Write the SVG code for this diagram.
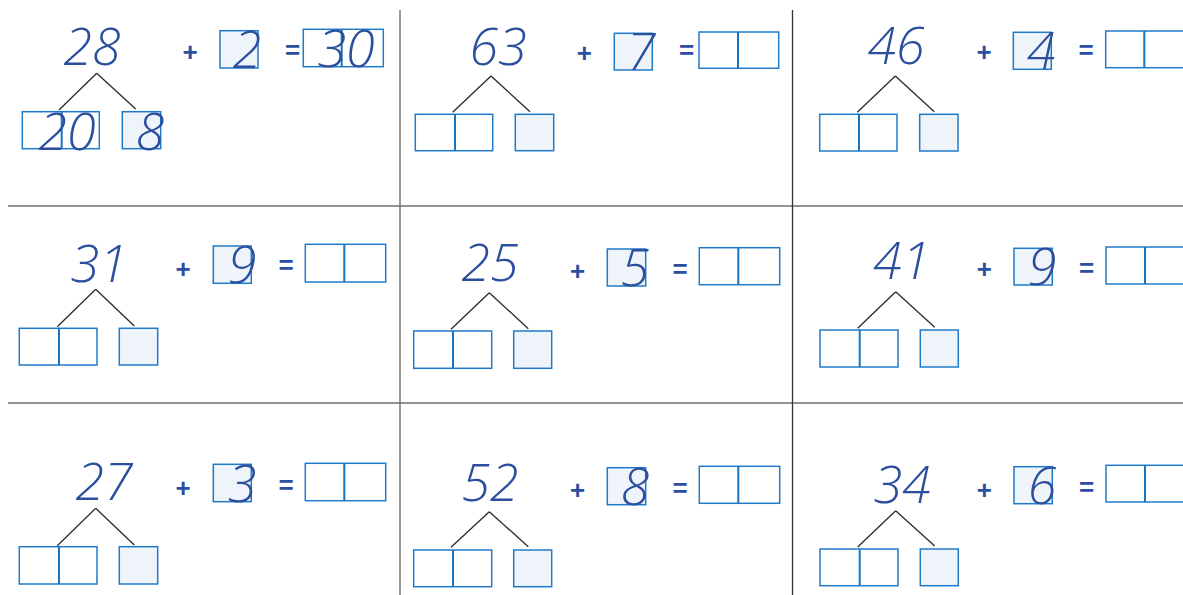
<svg xmlns="http://www.w3.org/2000/svg" width="1183" height="595" viewBox="0 0 1183 595">
<style>
.bg{fill:#ffffff}
.grid{stroke:#6e6e6e;stroke-width:1.4;fill:none}
.gridd{stroke:#333333;stroke-width:1.3;fill:none}
.box{fill:#ffffff;stroke:#1f7bc9;stroke-width:1.5}
.fbox{fill:#eff4fa;stroke:#1f7bc9;stroke-width:1.5}
.div{stroke:#1a73c0;stroke-width:2}
.num{font-family:"Open Sans","Liberation Sans",sans-serif;font-style:italic;font-weight:300;font-size:52px;fill:#2b4f9e;text-anchor:middle}
.op{font-family:"Liberation Sans",Arial,sans-serif;font-weight:bold;font-size:26px;fill:#2b4f9e;text-anchor:middle}
.conn line{stroke:#2a2a2a;stroke-width:1.3}
</style>
<rect class="bg" x="0" y="0" width="1183" height="595"/>
<g id="grid">
<line class="grid" x1="8" y1="206" x2="1183" y2="206"/>
<line class="grid" x1="8" y1="403" x2="1183" y2="403"/>
<line class="grid" x1="400" y1="10" x2="400" y2="595"/>
<line class="gridd" x1="792.5" y1="10" x2="792.5" y2="595"/>
</g>
<g id="connectors" class="conn">
<line x1="96.7" y1="73.3" x2="59" y2="110"/><line x1="96.7" y1="73.3" x2="135.7" y2="109"/>
<line x1="491" y1="76" x2="452.7" y2="112.3"/><line x1="491" y1="76" x2="530" y2="111.7"/>
<line x1="895.3" y1="76" x2="857.3" y2="112.3"/><line x1="895.3" y1="76" x2="934.3" y2="111.7"/>
<line x1="95.7" y1="289.3" x2="57.3" y2="326.7"/><line x1="95.7" y1="289.3" x2="134.3" y2="326"/>
<line x1="489.3" y1="292.7" x2="451" y2="329.3"/><line x1="489.3" y1="292.7" x2="528.3" y2="328.7"/>
<line x1="895.7" y1="291.7" x2="857.7" y2="328.3"/><line x1="895.7" y1="291.7" x2="934.7" y2="327.3"/>
<line x1="95.7" y1="508.3" x2="57.3" y2="545.7"/><line x1="95.7" y1="508.3" x2="134.3" y2="545"/>
<line x1="489.3" y1="511.7" x2="451" y2="547.3"/><line x1="489.3" y1="511.7" x2="528.3" y2="546.7"/>
<line x1="895.7" y1="510.7" x2="857.7" y2="547"/><line x1="895.7" y1="510.7" x2="934.7" y2="546"/>
</g>
<g id="cell1">
<text class="num" x="92" y="65">28</text>
<rect class="box" x="22.3" y="111.7" width="77" height="37"/><line class="div" x1="61.7" y1="111.7" x2="61.7" y2="148.7"/>
<rect class="fbox" x="122.3" y="111.7" width="38.4" height="37"/>
<text class="op" x="190" y="61">+</text>
<rect class="fbox" x="220" y="30.7" width="38" height="37.3"/>
<text class="op" x="292.7" y="59">=</text>
<rect class="box" x="303.3" y="29.3" width="80" height="37.4"/><line class="div" x1="341.7" y1="29.3" x2="341.7" y2="66.7"/>
<text class="num" x="247" y="68">2</text>
<text class="num" x="346" y="67">30</text>
<text class="num" x="67" y="150">20</text>
<text class="num" x="150" y="150">8</text>
</g>
<g id="cell2">
<text class="num" x="498" y="65">63</text>
<rect class="box" x="415.3" y="114.3" width="77.4" height="36.4"/><line class="div" x1="455" y1="114.3" x2="455" y2="150.7"/>
<rect class="fbox" x="515.3" y="114.3" width="38.4" height="36.4"/>
<text class="op" x="584.3" y="62">+</text>
<rect class="fbox" x="614.3" y="33.3" width="38" height="36.7"/>
<text class="num" x="641" y="70">7</text>
<text class="op" x="686.7" y="59">=</text>
<rect class="box" x="699" y="32" width="79.7" height="36.3"/><line class="div" x1="738" y1="32" x2="738" y2="68.3"/>
</g>
<g id="cell3">
<text class="num" x="896" y="64">46</text>
<rect class="box" x="819.7" y="114.3" width="77.3" height="36.7"/><line class="div" x1="859" y1="114.3" x2="859" y2="151"/>
<rect class="fbox" x="919.7" y="114.3" width="38.3" height="36.7"/>
<text class="op" x="984" y="61">+</text>
<rect class="fbox" x="1013.3" y="32.3" width="38" height="37"/>
<text class="num" x="1041" y="69">4</text>
<text class="op" x="1086" y="59">=</text>
<rect class="box" x="1105.7" y="31" width="79" height="36.7"/><line class="div" x1="1144.3" y1="31" x2="1144.3" y2="67.7"/>
</g>
<g id="cell4">
<text class="num" x="99" y="281.7">31</text>
<rect class="box" x="19.3" y="328.3" width="77.7" height="36.7"/><line class="div" x1="59" y1="328.3" x2="59" y2="365"/>
<rect class="fbox" x="119.3" y="328.3" width="38.4" height="36.7"/>
<text class="op" x="183" y="277.5">+</text>
<rect class="fbox" x="213.3" y="246" width="38" height="37.3"/>
<text class="num" x="242" y="283">9</text>
<text class="op" x="286" y="274">=</text>
<rect class="box" x="305.3" y="244.3" width="80.4" height="37.7"/><line class="div" x1="344.3" y1="244.3" x2="344.3" y2="282"/>
</g>
<g id="cell5">
<text class="num" x="490" y="280.7">25</text>
<rect class="box" x="413.7" y="331" width="78" height="37.3"/><line class="div" x1="453" y1="331" x2="453" y2="368.3"/>
<rect class="fbox" x="513.7" y="331" width="38" height="37.3"/>
<text class="op" x="577.7" y="280">+</text>
<rect class="fbox" x="607.3" y="249" width="38.4" height="37"/>
<text class="num" x="635" y="286">5</text>
<text class="op" x="680" y="277.5">=</text>
<rect class="box" x="699.3" y="247.7" width="80.4" height="37"/><line class="div" x1="738.3" y1="247.7" x2="738.3" y2="284.7"/>
</g>
<g id="cell6">
<text class="num" x="901.7" y="279.3">41</text>
<rect class="box" x="820" y="330" width="78" height="37"/><line class="div" x1="859.7" y1="330" x2="859.7" y2="367"/>
<rect class="fbox" x="920.3" y="330" width="38" height="37"/>
<text class="op" x="984.3" y="278">+</text>
<rect class="fbox" x="1014" y="248.3" width="38.3" height="36.7"/>
<text class="num" x="1042" y="285">9</text>
<text class="op" x="1086.7" y="277">=</text>
<rect class="box" x="1106" y="247" width="79" height="37"/><line class="div" x1="1145" y1="247" x2="1145" y2="284"/>
</g>
<g id="cell7">
<text class="num" x="104" y="500">27</text>
<rect class="box" x="19.3" y="546.7" width="77.7" height="37.3"/><line class="div" x1="59" y1="546.7" x2="59" y2="584"/>
<rect class="fbox" x="119.3" y="546.7" width="38.4" height="37.3"/>
<text class="op" x="183" y="496.5">+</text>
<rect class="fbox" x="213.3" y="464.3" width="38" height="37.4"/>
<text class="num" x="242" y="502">3</text>
<text class="op" x="286" y="494">=</text>
<rect class="box" x="305.3" y="463.3" width="80.4" height="37.4"/><line class="div" x1="344.3" y1="463.3" x2="344.3" y2="500.7"/>
</g>
<g id="cell8">
<text class="num" x="490" y="501">52</text>
<rect class="box" x="413.7" y="550" width="78" height="36.7"/><line class="div" x1="453" y1="550" x2="453" y2="586.7"/>
<rect class="fbox" x="513.7" y="550" width="38" height="36.7"/>
<text class="op" x="577.7" y="498.5">+</text>
<rect class="fbox" x="607.3" y="467.7" width="38.4" height="37"/>
<text class="num" x="635" y="504.5">8</text>
<text class="op" x="680" y="496.5">=</text>
<rect class="box" x="699.3" y="466.3" width="80.4" height="37"/><line class="div" x1="738.3" y1="466.3" x2="738.3" y2="503.3"/>
</g>
<g id="cell9">
<text class="num" x="902" y="503.3">34</text>
<rect class="box" x="820" y="549" width="78" height="36.7"/><line class="div" x1="859.7" y1="549" x2="859.7" y2="585.7"/>
<rect class="fbox" x="920.3" y="549" width="38" height="36.7"/>
<text class="op" x="984.3" y="498.5">+</text>
<rect class="fbox" x="1014" y="466.7" width="38.3" height="37"/>
<text class="num" x="1042" y="503.5">6</text>
<text class="op" x="1086.7" y="496">=</text>
<rect class="box" x="1106" y="465.3" width="79" height="36.7"/><line class="div" x1="1145" y1="465.3" x2="1145" y2="502"/>
</g>
</svg>
